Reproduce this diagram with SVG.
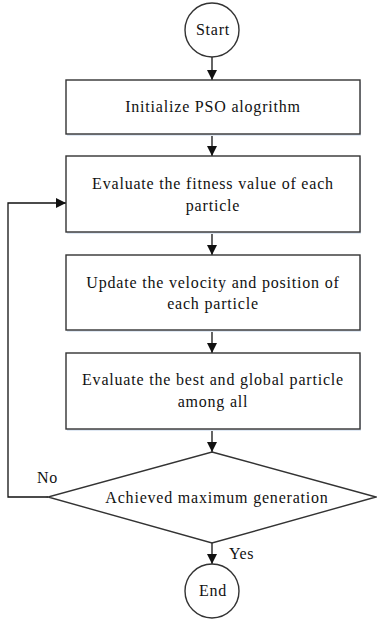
<svg xmlns="http://www.w3.org/2000/svg" width="377" height="622" viewBox="0 0 377 622">
<style>
.box{fill:#fff;stroke:#333;stroke-width:1.4}
.sh{fill:#dfe8f3}
.t{font-family:"Liberation Serif","Times New Roman",serif;font-size:16px;letter-spacing:0.8px;fill:#111;text-anchor:middle}
.l{font-family:"Liberation Serif","Times New Roman",serif;font-size:16px;letter-spacing:0.6px;fill:#111}
.c{fill:none;stroke:#111;stroke-width:1.3}
</style>
<defs>
<marker id="ah" markerWidth="10" markerHeight="10" refX="10" refY="5" orient="auto" markerUnits="userSpaceOnUse">
<path d="M0,0 L10,5 L0,10 Z" fill="#111"/>
</marker>
</defs>
<rect width="377" height="622" fill="#fff"/>
<g id="connectors">
<line class="c" x1="212" y1="57" x2="212" y2="80" marker-end="url(#ah)"/>
<line class="c" x1="212" y1="134" x2="212" y2="156" marker-end="url(#ah)"/>
<line class="c" x1="212" y1="232" x2="212" y2="255" marker-end="url(#ah)"/>
<line class="c" x1="212" y1="330" x2="212" y2="353" marker-end="url(#ah)"/>
<line class="c" x1="212" y1="429" x2="212" y2="452" marker-end="url(#ah)"/>
<line class="c" x1="212" y1="543" x2="212" y2="564" marker-end="url(#ah)"/>
<polyline class="c" points="48,497 8,497 8,203 66,203" marker-end="url(#ah)"/>
<text class="l" x="37" y="483">No</text>
<text class="l" x="229" y="559">Yes</text>
</g>
<g id="start">
<circle cx="212" cy="30" r="27" class="box"/>
<text class="t" x="213" y="35">Start</text>
</g>
<g id="init">
<rect x="67" y="82" width="294" height="54" class="sh"/>
<rect x="66" y="80" width="294" height="54" class="box"/>
<text class="t" x="213" y="112">Initialize PSO alogrithm</text>
</g>
<g id="evaluate">
<rect x="67" y="158" width="294" height="76" class="sh"/>
<rect x="66" y="156" width="294" height="76" class="box"/>
<text class="t" x="213" y="189">Evaluate the fitness value of each</text>
<text class="t" x="213" y="211">particle</text>
</g>
<g id="update">
<rect x="67" y="257" width="294" height="75" class="sh"/>
<rect x="66" y="255" width="294" height="75" class="box"/>
<text class="t" x="213" y="288">Update the velocity and position of</text>
<text class="t" x="213" y="309">each particle</text>
</g>
<g id="best">
<rect x="67" y="355" width="294" height="76" class="sh"/>
<rect x="66" y="353" width="294" height="76" class="box"/>
<text class="t" x="213" y="385">Evaluate the best and global particle</text>
<text class="t" x="213" y="407">among all</text>
</g>
<g id="decision">
<polygon points="212,452 376,497 212,543 48,497" class="box"/>
<text class="t" x="217" y="503">Achieved maximum generation</text>
</g>
<g id="end">
<circle cx="212" cy="591" r="27" class="box"/>
<text class="t" x="213" y="596">End</text>
</g>
</svg>
